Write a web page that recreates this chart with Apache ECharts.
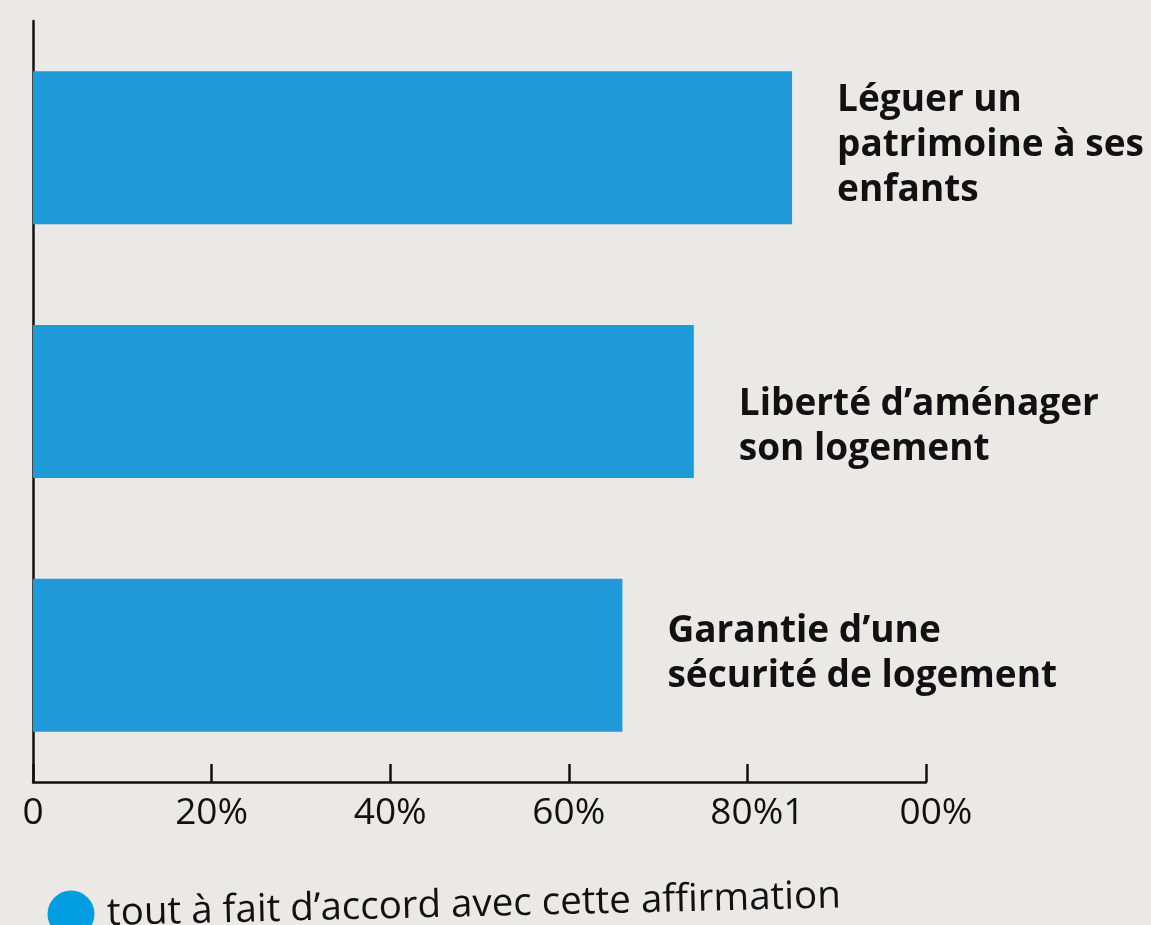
<!DOCTYPE html>
<html><head><meta charset="utf-8">
<script src="https://cdn.jsdelivr.net/npm/echarts@6/dist/echarts.min.js"></script>
<style>html,body{margin:0;padding:0;background:#ebe9e6;}#c{width:1151px;height:925px;}</style>
</head><body><div id="c"></div>
<script>
var categories = ['Léguer un\npatrimoine à ses\nenfants', 'Liberté d’aménager\nson logement', 'Garantie d’une\nsécurité de logement'];
var values = [85, 74, 66];
var seriesName = 'tout à fait d’accord avec cette affirmation';
var tickValues = [0, 20, 40, 60, 80, 100];
var tickLabels = ['0', '20%', '40%', '60%', '80%1', '00%'];
var labelOffsets = [[0, -2], [0, 25], [0, -1]];

var chart = echarts.init(document.getElementById('c'));
var FONT = 'Open Sans';
chart.setOption({
  backgroundColor: '#ebe9e6',
  animation: false,
  grid: {left: 33, right: 225, top: 21, bottom: 143, containLabel: false},
  xAxis: {
    type: 'value', min: 0, max: 100, interval: 20,
    axisLine: {show: true, lineStyle: {color: '#111', width: 2.5}},
    axisTick: {show: true, inside: true, length: 18, lineStyle: {color: '#111', width: 2.5}},
    splitLine: {show: false},
    axisLabel: {
      margin: 13, color: '#111', fontFamily: FONT, fontSize: 37,
      formatter: function (v) {
        var i = tickValues.indexOf(v);
        var t = i >= 0 ? tickLabels[i] : '';
        if (v >= 80) return '{s|' + t + '}';
        return t;
      },
      rich: {s: {padding: [0, 0, 0, 20], color: '#111', fontFamily: FONT, fontSize: 37}}
    }
  },
  yAxis: {
    type: 'category', data: categories, inverse: true,
    axisLine: {show: true, lineStyle: {color: '#111', width: 2.5}},
    axisTick: {show: false}, axisLabel: {show: false}, splitLine: {show: false}
  },
  series: [{
    name: seriesName, type: 'bar', barWidth: 153,
    itemStyle: {color: '#2099d8'},
    data: values.map(function (v, i) {
      return {value: v, label: {offset: labelOffsets[i]}};
    }),
    label: {
      show: true, position: 'right', distance: 45,
      formatter: '{b}', color: '#111', fontFamily: FONT, fontWeight: 'bold',
      fontSize: 37, lineHeight: 45, align: 'left'
    }
  }],
  graphic: [{
    type: 'group',
    children: [
      {type: 'circle', shape: {cx: 71, cy: 914, r: 23.5}, style: {fill: '#009ee0'}},
      {type: 'text', x: 107, y: 914, rotation: 0.024,
       style: {text: seriesName, fill: '#111', font: '38.5px "Open Sans"', verticalAlign: 'middle', align: 'left'}}
    ]
  }]
});
</script></body></html>
